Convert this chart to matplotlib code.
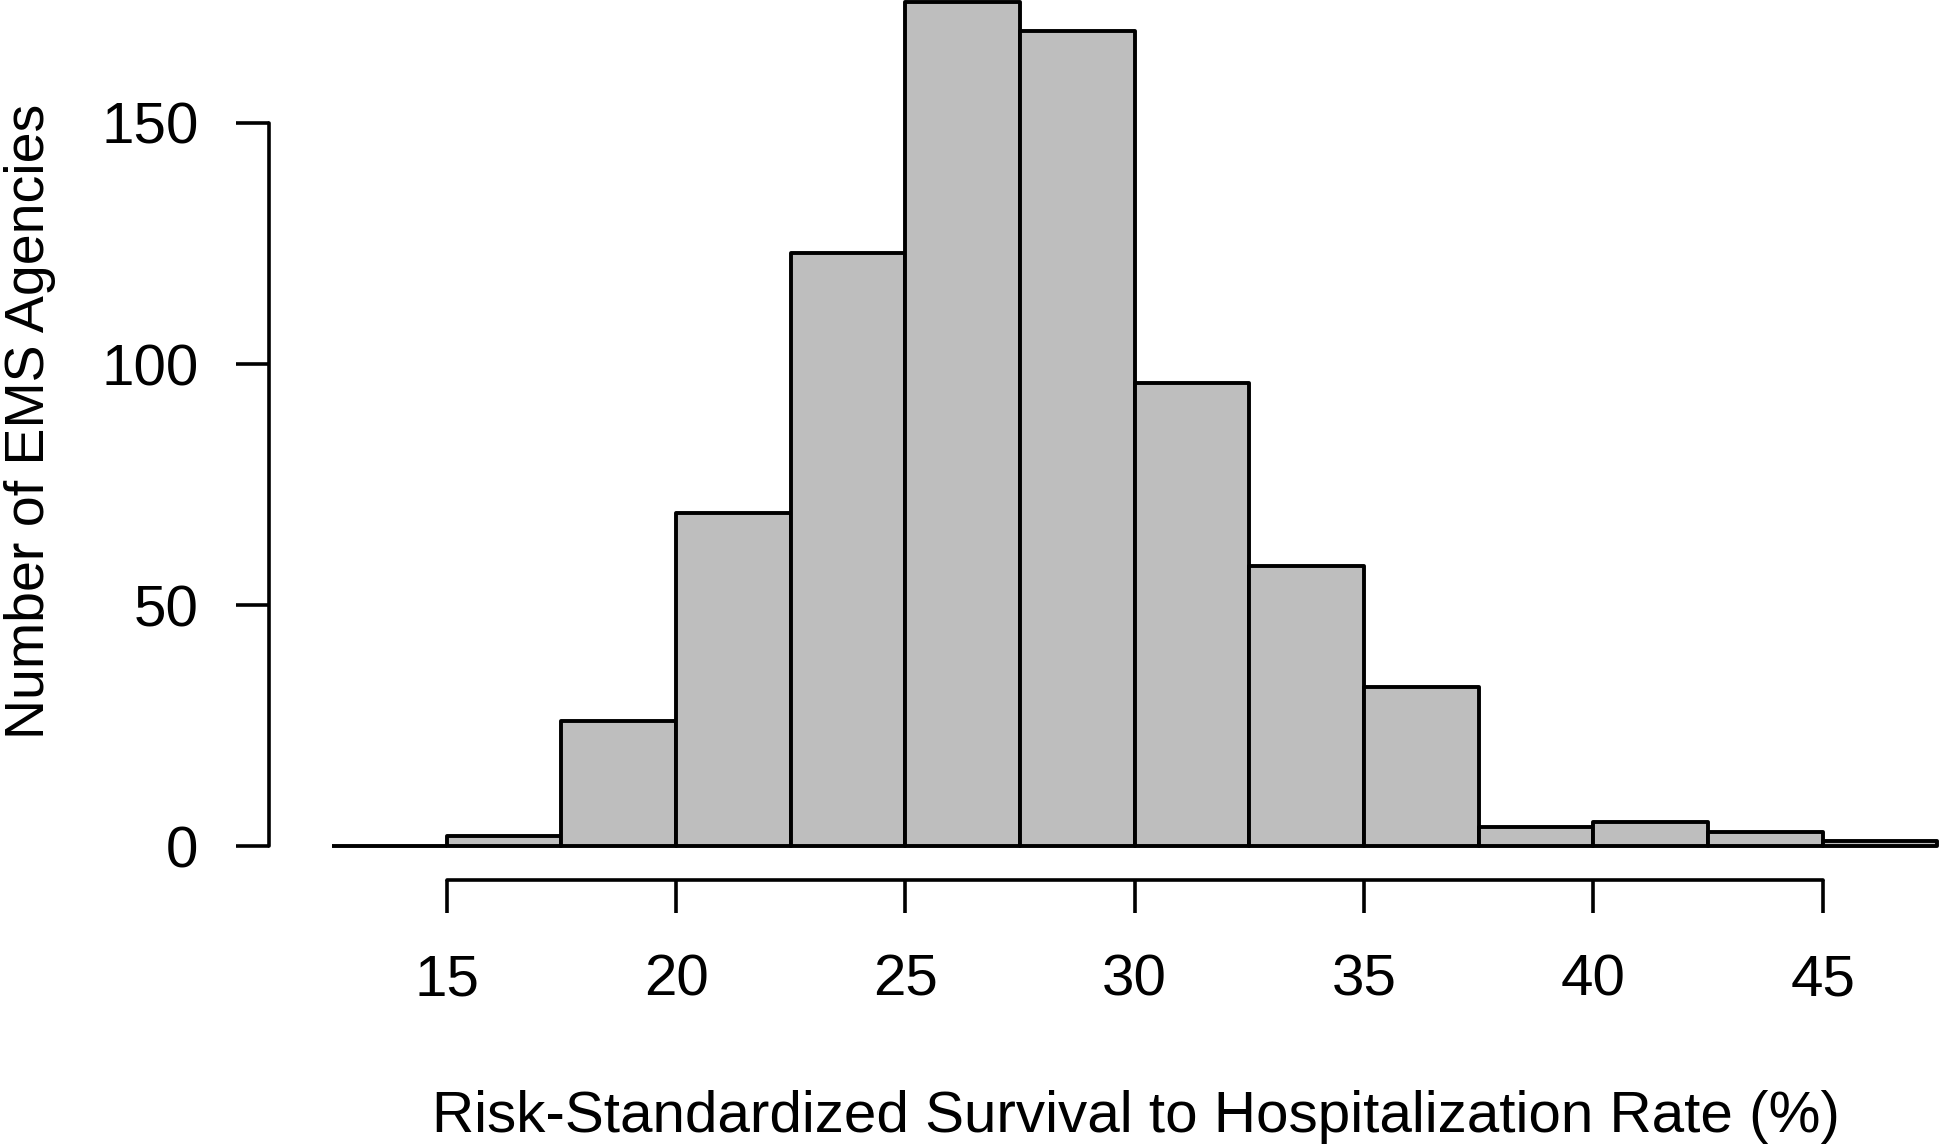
import matplotlib.pyplot as plt
import numpy as np

plt.rcParams['font.family'] = ['Liberation Sans', 'DejaVu Sans']

# histogram bins (2.5 wide) and counts
bin_edges = [12.5, 15, 17.5, 20, 22.5, 25, 27.5, 30, 32.5, 35, 37.5, 40, 42.5, 45, 47.5]
counts = [0, 2, 26, 69, 123, 175, 169, 96, 58, 33, 4, 5, 3, 1]
xticks = [15, 20, 25, 30, 35, 40, 45]
yticks = [0, 50, 100, 150]

fig = plt.figure(figsize=(19.42, 11.46), dpi=100)
ax = fig.add_axes([0, 0, 1, 1])
ax.patch.set_alpha(0)

left = np.array(bin_edges[:-1])
width = np.diff(bin_edges)
ax.bar(left, counts, width=width, align='edge', color='#bebebe',
       edgecolor='black', linewidth=2.8, joinstyle='round')

ax.set_xlim(5.26, 47.6)
ax.set_ylim(-62.2, 175.5)

# R-style detached axes
ax.spines['top'].set_visible(False)
ax.spines['right'].set_visible(False)
ax.spines['left'].set_position(('data', 11.13))
ax.spines['bottom'].set_position(('data', -7.05))
ax.spines['left'].set_bounds(0, 150)
ax.spines['bottom'].set_bounds(15, 45)
for s in ['left', 'bottom']:
    ax.spines[s].set_linewidth(2.6)
    ax.spines[s].set_capstyle('round')

ax.set_xticks(xticks)
ax.set_yticks(yticks)
ax.tick_params(axis='both', direction='out', length=24, width=2.6, labelsize=42)
ax.tick_params(axis='y', pad=27)
ax.tick_params(axis='x', pad=29)

fig.text(0.585, 0.012, 'Risk-Standardized Survival to Hospitalization Rate (%)',
         ha='center', va='baseline', fontsize=42)
fig.text(0.002, 0.632, 'Number of EMS Agencies', ha='left', va='center',
         rotation=90, fontsize=40)

plt.savefig('out.png', dpi=100)
